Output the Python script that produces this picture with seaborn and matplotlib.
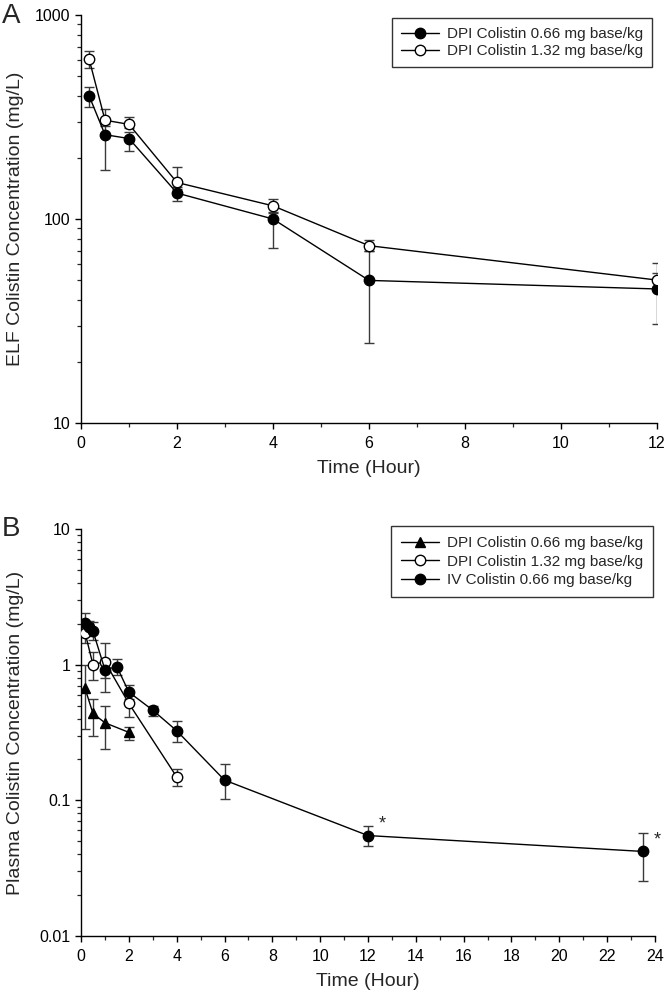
import numpy as np
import pandas as pd
import matplotlib
matplotlib.use("Agg")
import matplotlib.pyplot as plt
import seaborn as sns
from matplotlib.ticker import MultipleLocator, LogLocator, FuncFormatter, NullFormatter

# ---------------- Data ----------------
# Panel A: ELF concentrations
time_A = [0.17, 0.5, 1, 2, 4, 6, 12]
elf_066_mean = [401, 259, 248, 134, 100, 50, 45.4]
elf_066_low = [356, 174, 216, 122, 72, 24.6, 30.6]
elf_066_high = [442, 285, 268, 141, 107, 70, 54.6]
elf_132_mean = [607, 305, 291, 151, 116, 74, 50.2]
elf_132_low = [548, 292, 278, 143, 108, 70, 46.5]
elf_132_high = [667, 345, 318, 180, 126, 79, 60.6]

# Panel B: plasma concentrations
time_B_dpi066 = [0.17, 0.5, 1, 2]
pl_dpi066_mean = [0.668, 0.437, 0.373, 0.317]
pl_dpi066_low = [0.338, 0.299, 0.239, 0.278]
pl_dpi066_high = [1.0, 0.557, 0.50, 0.35]

time_B_dpi132 = [0.17, 0.5, 1, 2, 4]
pl_dpi132_mean = [1.72, 1.0, 1.05, 0.518, 0.149]
pl_dpi132_low = [1.45, 0.77, 0.80, 0.408, 0.128]
pl_dpi132_high = [2.0, 1.24, 1.44, 0.60, 0.169]

time_B_iv = [0.17, 0.33, 0.5, 1, 1.5, 2, 3, 4, 6, 12, 23.5]
pl_iv_mean = [2.02, 1.9, 1.77, 0.92, 0.966, 0.628, 0.462, 0.326, 0.141, 0.055, 0.042]
pl_iv_low = [1.75, 1.62, 1.52, 0.63, 0.84, 0.56, 0.42, 0.27, 0.1016, 0.046, 0.0254]
pl_iv_high = [2.4, 2.1, 2.05, 1.10, 1.10, 0.703, 0.495, 0.384, 0.184, 0.065, 0.057]

star_times = [12, 23.5]

labels_A = ["DPI Colistin 0.66 mg base/kg", "DPI Colistin 1.32 mg base/kg"]
labels_B = ["DPI Colistin 0.66 mg base/kg", "DPI Colistin 1.32 mg base/kg",
            "IV Colistin 0.66 mg base/kg"]

# ---------------- Style ----------------
sns.set_style("ticks")
plt.rcParams['font.family'] = ['Liberation Sans', 'DejaVu Sans']
plt.rcParams['axes.linewidth'] = 1.0

fig = plt.figure(figsize=(6.66, 9.97), dpi=100)
W, H = 666, 997
axA = fig.add_axes([81 / W, 1 - 423 / H, 576 / W, 408 / H])
axB = fig.add_axes([81 / W, 1 - 936 / H, 574 / W, 407 / H])

ecol = "#3a3a3a"
msize = 7.5


def draw_series(ax, t, mean, low, high, marker, face, label):
    mean = np.asarray(mean, float)
    yerr = [mean - np.asarray(low, float), np.asarray(high, float) - mean]
    ax.errorbar(t, mean, yerr=yerr, fmt='none', ecolor=ecol, elinewidth=1.0,
                capsize=3.8, capthick=1.0, zorder=1)
    df = pd.DataFrame({"t": t, "c": mean})
    sns.lineplot(data=df, x="t", y="c", ax=ax, color="black", linewidth=1.0,
                 marker=marker, markersize=msize, markerfacecolor=face,
                 markeredgecolor="black", markeredgewidth=1.0, label=label,
                 zorder=3)


def fmt(v, pos):
    if v >= 1:
        return f"{int(round(v))}"
    return f"{v:g}"


# ---------------- Panel A ----------------
draw_series(axA, time_A, elf_066_mean, elf_066_low, elf_066_high, 'o', 'black', labels_A[0])
draw_series(axA, time_A, elf_132_mean, elf_132_low, elf_132_high, 'o', 'white', labels_A[1])
axA.set_yscale('log')
axA.set_ylim(10, 1000)
axA.set_xlim(0, 12)

# ---------------- Panel B ----------------
draw_series(axB, time_B_dpi066, pl_dpi066_mean, pl_dpi066_low, pl_dpi066_high, '^', 'black', labels_B[0])
draw_series(axB, time_B_dpi132, pl_dpi132_mean, pl_dpi132_low, pl_dpi132_high, 'o', 'white', labels_B[1])
draw_series(axB, time_B_iv, pl_iv_mean, pl_iv_low, pl_iv_high, 'o', 'black', labels_B[2])
axB.set_yscale('log')
axB.set_ylim(0.01, 10)
axB.set_xlim(0, 24)

for st in star_times:
    yv = pl_iv_mean[time_B_iv.index(st)]
    axB.annotate("*", xy=(st, yv), xytext=(7.5, 2), textcoords="offset points",
                 fontsize=13, ha="left", va="bottom")

for ax, ylab, wpx in [(axA, "ELF Colistin Concentration (mg/L)", 576),
                      (axB, "Plasma Colistin Concentration (mg/L)", 574)]:
    sns.despine(ax=ax)
    ax.xaxis.set_major_locator(MultipleLocator(2))
    ax.xaxis.set_minor_locator(MultipleLocator(1))
    ax.yaxis.set_major_locator(LogLocator(base=10))
    ax.yaxis.set_minor_locator(LogLocator(base=10, subs=np.arange(2, 10)))
    ax.yaxis.set_major_formatter(FuncFormatter(fmt))
    ax.yaxis.set_minor_formatter(NullFormatter())
    ax.tick_params(which='major', direction='out', length=4.5, width=1.0,
                   labelsize=11.5, pad=3, colors='black')
    ax.tick_params(axis='x', which='major', pad=5)
    ax.tick_params(which='minor', direction='out', length=3, width=0.9)
    ax.set_xlabel("Time (Hour)", fontsize=14, labelpad=6)
    ax.set_ylabel(ylab, fontsize=14)
    ax.yaxis.set_label_coords(-(81 - 24) / wpx, 0.5)
    for s in ax.spines.values():
        s.set_color('black')

legA = axA.legend(loc='upper right', bbox_to_anchor=(652 / W, 1 - 18 / H),
                  bbox_transform=fig.transFigure, borderaxespad=0, fontsize=11,
                  frameon=True, fancybox=False, edgecolor='black',
                  handlelength=2.5, handletextpad=0.5, labelspacing=0.2,
                  borderpad=0.6)
legA.get_frame().set_linewidth(1.0)
legB = axB.legend(loc='upper right', bbox_to_anchor=(653 / W, 1 - 526 / H),
                  bbox_transform=fig.transFigure, borderaxespad=0, fontsize=11,
                  frameon=True, fancybox=False, edgecolor='black',
                  handlelength=2.5, handletextpad=0.5, labelspacing=0.3,
                  borderpad=0.65)
legB.get_frame().set_linewidth(1.0)

fig.text(2 / W, 1 - 16 / H, "A", fontsize=20, ha='left', va='center')
fig.text(2 / W, 1 - 529 / H, "B", fontsize=20, ha='left', va='center')

fig.savefig("out.png", dpi=100)
